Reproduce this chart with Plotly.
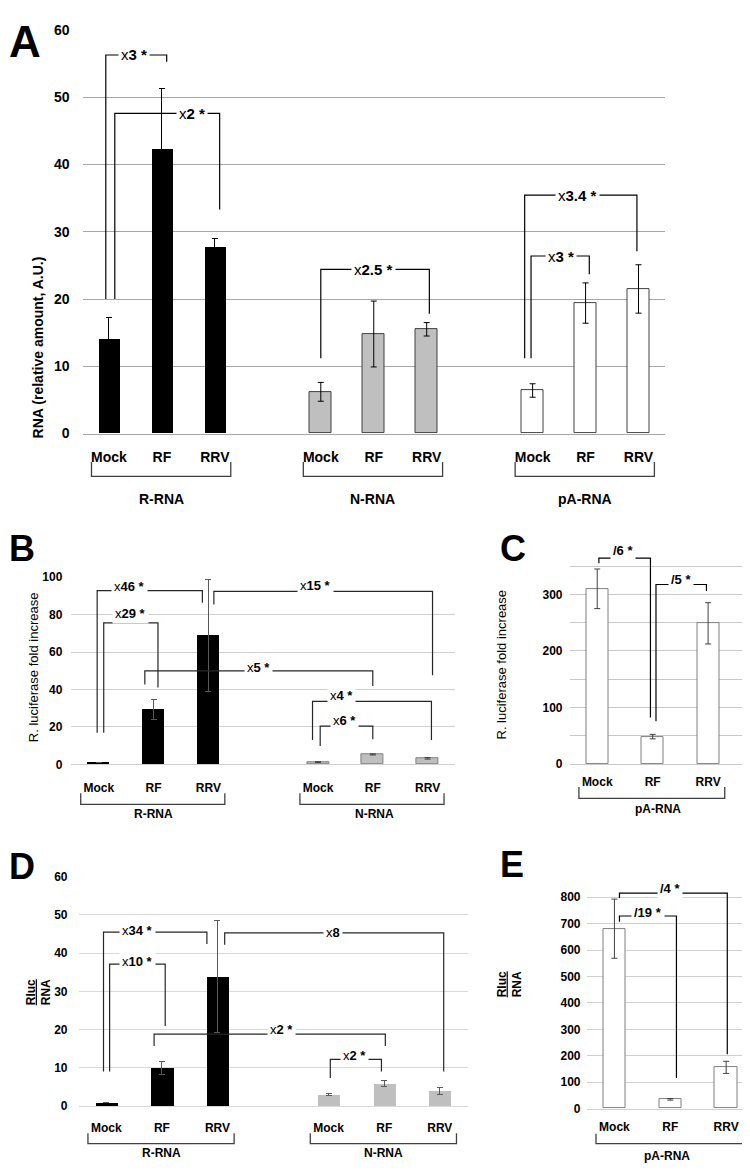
import plotly.graph_objects as go

FONT = "Liberation Sans, Arial, sans-serif"
W, H = 750, 1170

CATS = ["Mock", "RF", "RRV"]

# A: RNA (relative amount, A.U.)
A_R_VAL = [14.0, 42.3, 27.7]
A_R_ERR = [3.2, 9.0, 1.3]
A_N_VAL = [6.2, 14.8, 15.5]
A_N_ERR = [1.4, 4.9, 1.0]
A_PA_VAL = [6.4, 19.4, 21.5]
A_PA_ERR = [1.0, 3.0, 3.6]

# B: R. luciferase fold increase (R-RNA, N-RNA)
B_R_VAL = [1.0, 29.3, 68.9]
B_R_ERR = [0.2, 5.1, 30.0]
B_N_VAL = [1.2, 5.3, 3.2]
B_N_ERR = [0.2, 0.3, 0.4]

# C: R. luciferase fold increase (pA-RNA)
C_PA_VAL = [309.8, 48.3, 248.7]
C_PA_ERR = [35.0, 4.0, 36.5]

# D: Rluc / RNA (R-RNA, N-RNA)
D_R_VAL = [0.9, 9.9, 33.9]
D_R_ERR = [0.1, 1.6, 14.7]
D_N_VAL = [3.0, 5.85, 3.9]
D_N_ERR = [0.3, 0.8, 0.9]

# E: Rluc / RNA (pA-RNA)
E_PA_VAL = [681.0, 35.0, 156.0]
E_PA_ERR = [112.0, 3.0, 23.0]

# significance brackets: left x, left foot, right x, right foot, top, label, label x, label y
A_BRACKETS = [
    (-0.06, 20.0, 1.09, 55.3, 56.3, "x<b>3 *</b>", 0.47, 56.3),
    (0.11, 20.0, 2.09, 33.3, 47.6, "x<b>2 *</b>", 1.57, 47.6),
    (4.0, 11.2, 6.05, 17.8, 24.4, "x<b>2.5 *</b>", 5.0, 24.4),
    (7.85, 11.2, 9.97, 27.1, 35.45, "x<b>3.4 *</b>", 8.85, 35.45),
    (7.97, 11.2, 9.07, 23.7, 26.4, "x<b>3 *</b>", 8.54, 26.4),
]
B_BRACKETS = [
    (-0.03, 16.9, 1.89, 86.3, 92.8, "x<b>46 *</b>", 0.56, 95.2),
    (0.09, 16.9, 1.08, 41.0, 75.6, "x<b>29 *</b>", 0.57, 80.5),
    (2.1, 85.4, 6.09, 47.6, 92.4, "x<b>15 *</b>", 3.96, 95.4),
    (0.84, 42.7, 5.0, 41.8, 49.9, "x<b>5 *</b>", 2.91, 52.0),
    (3.9, 13.0, 6.07, 13.0, 33.6, "x<b>4 *</b>", 4.43, 37.0),
    (4.04, 9.8, 5.0, 13.4, 20.4, "x<b>6 *</b>", 4.48, 23.4),
]
C_BRACKETS = [
    (0.03, 355.0, 0.96, 82.0, 364.0, "<b>/6 *</b>", 0.47, 378.0),
    (1.06, 75.7, 1.97, 305.8, 317.4, "<b>/5 *</b>", 1.52, 326.0),
]
D_BRACKETS = [
    (-0.05, 9.0, 1.81, 42.4, 45.5, "x<b>34 *</b>", 0.57, 45.9),
    (0.06, 9.0, 1.06, 20.9, 37.1, "x<b>10 *</b>", 0.56, 37.7),
    (2.13, 42.2, 6.07, 9.0, 45.3, "x<b>8</b>", 4.07, 45.5),
    (0.86, 15.7, 5.02, 15.7, 18.8, "x<b>2 *</b>", 3.15, 20.0),
    (4.03, 7.3, 4.95, 9.0, 12.2, "x<b>2 *</b>", 4.47, 13.1),
]
E_BRACKETS = [
    (0.09, 797.5, 2.02, 206.0, 816.0, "<b>/4 *</b>", 1.0, 835.0),
    (0.09, 707.5, 1.11, 116.0, 729.0, "<b>/19 *</b>", 0.6, 741.0),
]


def px_x(px):
    return px / W


def px_y(py):
    return 1 - py / H


def add_panel(fig, n, box, xrange, yrange, dtick, grid, size, series, brackets,
              groups, group_px, bar_w=0.4, minor=None, xstand=12, ystand=8,
              bracket_color="black"):
    suffix = "" if n == 1 else str(n)
    xa, ya = "x" + suffix, "y" + suffix
    left, right, top, bottom = box

    tickvals = []
    for start, vals, errs, fill, edge, ecol in series:
        xs = [start + i for i in range(len(vals))]
        tickvals += xs
        fig.add_trace(
            go.Bar(
                x=xs,
                y=vals,
                width=bar_w,
                marker=dict(color=fill, line=dict(color=edge or fill, width=1 if edge else 0)),
                error_y=dict(type="data", array=errs, color=ecol, thickness=1, width=3),
                xaxis=xa,
                yaxis=ya,
                showlegend=False,
                hoverinfo="skip",
            )
        )

    bx, by = [], []
    for x0, y0, x1, y1, yt, label, lx, ly in brackets:
        bx += [x0, x0, x1, x1, None]
        by += [y0, yt, yt, y1, None]
        fig.add_annotation(
            x=lx, y=ly, xref=xa, yref=ya, text=label, showarrow=False,
            bgcolor="white", borderpad=2,
            font=dict(family=FONT, size=size + 1, color="black"),
        )
    fig.add_trace(
        go.Scatter(
            x=bx, y=by, mode="lines", xaxis=xa, yaxis=ya,
            line=dict(color=bracket_color, width=1.2),
            showlegend=False, hoverinfo="skip",
        )
    )

    # group brackets and names under the category labels
    y_end, y_bar, y_name = group_px
    for start, name, name_x in groups:
        x0, x1 = start - 0.33, start + 2.3
        fig.add_shape(
            type="path", xref=xa, yref="paper",
            path=f"M {x0},{px_y(y_end)} L {x0},{px_y(y_bar)} L {x1},{px_y(y_bar)} L {x1},{px_y(y_end)}",
            line=dict(color="#404040", width=1.3),
        )
        fig.add_annotation(
            x=name_x, y=px_y(y_name), xref=xa, yref="paper", text=f"<b>{name}</b>",
            showarrow=False, font=dict(family=FONT, size=size, color="black"),
        )

    tickfont = dict(family=FONT, size=size, color="black", weight="bold")
    fig.update_layout(
        {
            "xaxis" + suffix: dict(
                domain=[px_x(left), px_x(right)], range=xrange, anchor=ya,
                tickvals=tickvals, ticktext=CATS * (len(tickvals) // 3),
                tickfont=tickfont, showgrid=False, zeroline=False, ticks="",
                showline=True, linecolor=grid, linewidth=1,
                ticklabelstandoff=xstand,
            ),
            "yaxis" + suffix: dict(
                domain=[px_y(bottom), px_y(top)], range=yrange, anchor=xa,
                dtick=dtick, tick0=0, showgrid=True, gridcolor=grid, gridwidth=1,
                zeroline=False, showline=False, ticks="", tickfont=tickfont,
                ticklabelstandoff=ystand,
                minor=minor or {},
            ),
        }
    )


fig = go.Figure()

add_panel(
    fig, 1, (74.5, 657, 14.3, 423.3), [-0.5, 10.5], [0, 60], 10, "#a6a6a6", 14,
    [
        (0, A_R_VAL, A_R_ERR, "black", None, "black"),
        (4, A_N_VAL, A_N_ERR, "#bfbfbf", "#404040", "black"),
        (8, A_PA_VAL, A_PA_ERR, "white", "#404040", "black"),
    ],
    A_BRACKETS,
    [(0, "R-RNA", 1.0), (4, "N-RNA", 4.98), (8, "pA-RNA", 8.98)],
    (452.3, 466.7, 489.3), bar_w=0.41, xstand=11, ystand=12,
)

add_panel(
    fig, 2, (63.4, 447, 569, 758.7), [-0.5, 6.5], [0, 100], 20, "#d0d0d0", 12,
    [
        (0, B_R_VAL, B_R_ERR, "black", None, "#595959"),
        (4, B_N_VAL, B_N_ERR, "#bfbfbf", "#808080", "#404040"),
    ],
    B_BRACKETS,
    [(0, "R-RNA", 0.99), (4, "N-RNA", 5.04)],
    (788, 799.3, 818.3), ystand=8, xstand=12,
    bracket_color="#262626",
)

add_panel(
    fig, 3, (561.5, 750, 540.5, 758.3), [-0.5, 2.9], [0, 380], 100, "#c8c8c8", 12,
    [(0, C_PA_VAL, C_PA_ERR, "white", "#7f7f7f", "#404040")],
    C_BRACKETS,
    [(0, "pA-RNA", 1.1)],
    (781.7, 793.3, 813.3), ystand=6, xstand=7,
    minor=dict(dtick=50, showgrid=True, gridcolor="#c8c8c8", gridwidth=1),
)

add_panel(
    fig, 4, (70.5, 459.6, 872.7, 1105), [-0.5, 6.5], [0, 60], 10, "#d9d9d9", 12,
    [
        (0, D_R_VAL, D_R_ERR, "black", None, "#595959"),
        (4, D_N_VAL, D_N_ERR, "#bfbfbf", None, "#595959"),
    ],
    D_BRACKETS,
    [(0, "R-RNA", 0.99), (4, "N-RNA", 4.99)],
    (1132.7, 1143.3, 1162.3), ystand=10, xstand=11,
    bracket_color="#262626",
)

add_panel(
    fig, 5, (578.5, 750, 880.1, 1107.7), [-0.5, 2.57], [0, 850], 100, "#d0d0d0", 12,
    [(0, E_PA_VAL, E_PA_ERR, "white", "#7f7f7f", "#404040")],
    E_BRACKETS,
    [(0, "pA-RNA", 0.94)],
    (1133.3, 1143.3, 1165), ystand=5, xstand=7,
)

# axis titles
titles = [
    (20, 241.7, "<b>RNA (relative amount, A.U.)</b>", 14),
    (16.7, 660, "R. luciferase fold increase", 13),
    (503, 658, "R. luciferase fold increase", 13),
    (14, 1005, "<b><u>Rluc</u><br>RNA</b>", 12),
    (519, 997, "<b><u>Rluc</u><br>RNA</b>", 12),
]
for x, y, text, size in titles:
    fig.add_annotation(
        x=px_x(x), y=px_y(y), xref="paper", yref="paper", text=text,
        textangle=-90, showarrow=False,
        font=dict(family=FONT, size=size, color="black"),
    )

# panel letters
letters = [("A", 0, 0, 44, "top"), ("B", 0, 540, 36, "middle"),
           ("C", 491, 540, 36, "middle"), ("D", 0, 862, 36, "middle"),
           ("E", 491, 860, 36, "middle")]
for letter, x, y, size, anchor in letters:
    fig.add_annotation(
        x=px_x(x), y=px_y(y), xref="paper", yref="paper", text=f"<b>{letter}</b>",
        xanchor="left", yanchor=anchor, showarrow=False, borderpad=0,
        font=dict(family=FONT, size=size, color="black"),
    )

fig.update_layout(
    width=W,
    height=H,
    margin=dict(l=0, r=0, t=0, b=0),
    plot_bgcolor="white",
    paper_bgcolor="white",
    showlegend=False,
    bargap=0,
)

fig.write_html("out.html")
